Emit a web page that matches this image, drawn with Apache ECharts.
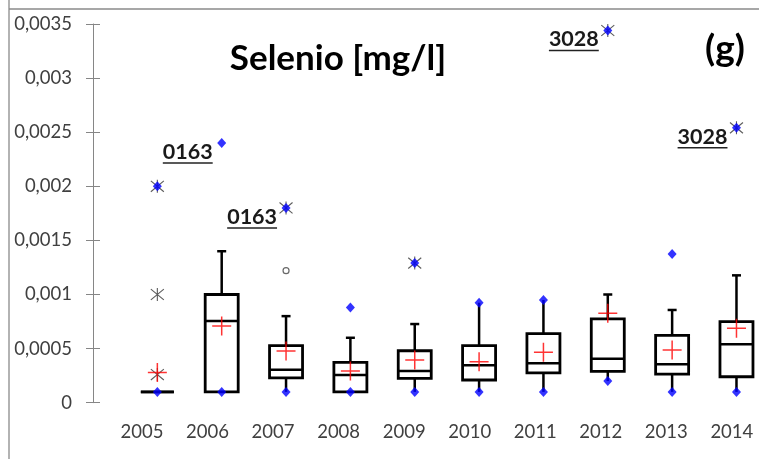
<!DOCTYPE html>
<html>
<head>
<meta charset="utf-8">
<script src="https://cdn.jsdelivr.net/npm/echarts@6/dist/echarts.min.js"></script>
<style>
  html, body { margin: 0; padding: 0; background: #fff; }
  #chart { width: 759px; height: 459px; }
</style>
</head>
<body>
<div id="chart"></div>
<script>
// Annual selenium concentrations [mg/l]: box statistics per year
const years = ['2005', '2006', '2007', '2008', '2009', '2010', '2011', '2012', '2013', '2014'];
const whiskerLow  = [0.0001, 0.0001, 0.0001, 0.0001, 0.0001, 0.0001, 0.0001, 0.0002, 0.0001, 0.0001];
const q1          = [0.0001, 0.0001, 0.00023, 0.0001, 0.000225, 0.00021, 0.000275, 0.00029, 0.000265, 0.00024];
const median      = [0.0001, 0.000755, 0.000305, 0.000256, 0.000293, 0.000345, 0.000364, 0.000407, 0.000355, 0.00054];
const q3          = [0.0001, 0.001, 0.000527, 0.000373, 0.00048, 0.000527, 0.000638, 0.000774, 0.000623, 0.00075];
const whiskerHigh = [0.0001, 0.0014, 0.0008, 0.0006, 0.000727, 0.000924, 0.000949, 0.001, 0.000857, 0.001177];
const means       = [0.00028, 0.00071, 0.000478, 0.000293, 0.000395, 0.000379, 0.000466, 0.000826, 0.000487, 0.000688];
const minValues   = [0.0001, 0.0001, 0.0001, 0.0001, 0.0001, 0.0001, 0.0001, 0.0002, 0.0001, 0.0001];
const maxValues   = [0.002, 0.0024, 0.0018, 0.00088, 0.00129, 0.000924, 0.000949, 0.00344, 0.001374, 0.00254];
// 1 = the maximum is also an extreme value (asterisk)
const maxExtreme  = [1, 0, 1, 0, 1, 0, 0, 1, 0, 1];
// station code of the maximum, where annotated
const maxStation  = ['', '0163', '0163', '', '', '', '', '3028', '', '3028'];
// other extreme values [yearIndex, value] and mild outliers
const extremeValues = [[0, 0.001], [0, 0.00026]];
const mildOutliers  = [[2, 0.00122]];
const yTickLabels = ['0', '0,0005', '0,001', '0,0015', '0,002', '0,0025', '0,003', '0,0035'];

const FONT = 'Lato, "Open Sans", sans-serif';
const BOX_W = 33;
const CAP_W = 9;
const LINE_W = 2.5;

const boxData = years.map((y, i) => [
  i, whiskerLow[i], q1[i], median[i], q3[i], whiskerHigh[i],
  whiskerLow[i] > minValues[i] ? 1 : 0,
  whiskerHigh[i] < maxValues[i] ? 1 : 0
]);

function renderBox(params, api) {
  const x = api.value(0);
  const pLow = api.coord([x, api.value(1)]);
  const pQ1 = api.coord([x, api.value(2)]);
  const pMed = api.coord([x, api.value(3)]);
  const pQ3 = api.coord([x, api.value(4)]);
  const pHigh = api.coord([x, api.value(5)]);
  const cx = pQ1[0];
  const half = BOX_W / 2;
  const st = { stroke: '#000', lineWidth: LINE_W, fill: null };
  const kids = [];
  if (pLow[1] > pQ1[1] + 0.5) {
    kids.push({ type: 'line', shape: { x1: cx, y1: pQ1[1], x2: cx, y2: pLow[1] }, style: st });
    if (api.value(6)) kids.push({ type: 'line', shape: { x1: cx - CAP_W / 2, y1: pLow[1], x2: cx + CAP_W / 2, y2: pLow[1] }, style: st });
  }
  if (pHigh[1] < pQ3[1] - 0.5) {
    kids.push({ type: 'line', shape: { x1: cx, y1: pQ3[1], x2: cx, y2: pHigh[1] }, style: st });
    if (api.value(7)) kids.push({ type: 'line', shape: { x1: cx - CAP_W / 2, y1: pHigh[1], x2: cx + CAP_W / 2, y2: pHigh[1] }, style: st });
  }
  kids.push({
    type: 'rect',
    shape: { x: cx - half, y: pQ3[1], width: BOX_W, height: pQ1[1] - pQ3[1] },
    style: { stroke: '#000', lineWidth: LINE_W + 0.3, fill: '#fff' }
  });
  kids.push({ type: 'line', shape: { x1: cx - half, y1: pMed[1], x2: cx + half, y2: pMed[1] }, style: st });
  return { type: 'group', children: kids };
}

// station code tags, bold and underlined, left of the maximum
const measureCtx = document.createElement('canvas').getContext('2d');
const TAG_FONT = 'bold 21.5px ' + FONT;
measureCtx.font = TAG_FONT;
const tagData = [];
maxStation.forEach((s, i) => { if (s) tagData.push([i, maxValues[i]]); });

function renderTag(params, api) {
  const i = api.value(0);
  const p = api.coord([i, api.value(1)]);
  const text = maxStation[i];
  const w = measureCtx.measureText(text).width;
  const right = p[0] - 9;
  const cy = p[1] + 9;
  return {
    type: 'group',
    children: [
      { type: 'text', x: right, y: cy,
        style: { text: text, font: TAG_FONT, fill: '#1a1a1a', align: 'right', verticalAlign: 'middle' } },
      { type: 'line', shape: { x1: right - w, y1: cy + 11, x2: right, y2: cy + 11 },
        style: { stroke: '#222', lineWidth: 1.5 } }
    ]
  };
}

const ASTERISK = 'path://M6 0 L6 12 M1 1 L11 11 M1 11 L11 1';
const PLUS = 'path://M0 10 L20 10 M10 0 L10 20';

const chart = echarts.init(document.getElementById('chart'), null, { renderer: 'canvas' });
chart.setOption({
  animation: false,
  backgroundColor: '#fff',
  graphic: [
    { type: 'line', shape: { x1: 9, y1: 0, x2: 9, y2: 459 }, style: { stroke: '#8a8a8a', lineWidth: 1.3 } },
    { type: 'line', shape: { x1: 9, y1: 9, x2: 759, y2: 9 }, style: { stroke: '#8a8a8a', lineWidth: 1.3 } },
    { type: 'text', x: 338, y: 59, style: { text: 'Selenio [mg/l]', font: 'bold 35px ' + FONT, fill: '#000', align: 'center', verticalAlign: 'middle' } },
    { type: 'text', x: 725, y: 49, style: { text: '(g)', font: 'bold 37px ' + FONT, fill: '#000', align: 'center', verticalAlign: 'middle' } }
  ],
  grid: { left: 93, right: 0, top: 24, bottom: 56.3 },
  xAxis: [
    { type: 'value', min: -1, max: 9.35, show: false },
    {
      type: 'value', position: 'bottom', min: -0.7476, max: 9.4144,
      axisLine: { show: false }, axisTick: { show: false }, splitLine: { show: false },
      axisLabel: {
        customValues: years.map((y, i) => i),
        formatter: v => years[Math.round(v)],
        margin: 20, fontFamily: FONT, fontSize: 18.5, color: '#404040'
      }
    }
  ],
  yAxis: [
    {
      type: 'value', min: 0, max: 0.0035, interval: 0.0005,
      axisLine: { show: true, onZero: false, lineStyle: { color: '#868686', width: 1 } },
      axisTick: { show: true, length: 7, lineStyle: { color: '#868686' } },
      splitLine: { show: false },
      axisLabel: {
        formatter: (v, idx) => yTickLabels[idx],
        margin: 21, fontFamily: FONT, fontSize: 18.5, color: '#404040'
      }
    },
    {
      type: 'value', position: 'left', min: 0, max: 0.0035, interval: 0.0005,
      axisLine: { show: false, onZero: false },
      axisTick: { show: true, inside: true, length: 7, lineStyle: { color: '#868686' } },
      axisLabel: { show: false }, splitLine: { show: false }
    }
  ],
  series: [
    {
      type: 'custom', xAxisIndex: 0, yAxisIndex: 0,
      renderItem: renderBox, data: boxData,
      encode: { x: 0, y: [1, 2, 3, 4, 5] }, z: 2
    },
    {
      type: 'scatter', xAxisIndex: 0, yAxisIndex: 0, z: 3,
      symbol: ASTERISK, symbolSize: 13,
      itemStyle: { color: 'rgba(0,0,0,0)', borderColor: '#333', borderWidth: 1.1 },
      data: extremeValues.concat(maxValues.map((v, i) => [i, v]).filter((d, i) => maxExtreme[i]))
    },
    {
      type: 'scatter', xAxisIndex: 0, yAxisIndex: 0, z: 3,
      symbol: 'circle', symbolSize: 6,
      itemStyle: { color: '#fff', borderColor: '#444', borderWidth: 1.2 },
      data: mildOutliers
    },
    {
      type: 'scatter', xAxisIndex: 0, yAxisIndex: 0, z: 4,
      symbol: 'diamond', symbolSize: [9, 10],
      itemStyle: { color: '#0000ff' },
      data: minValues.map((v, i) => [i, v]).concat(maxValues.map((v, i) => [i, v]))
    },
    {
      type: 'scatter', xAxisIndex: 0, yAxisIndex: 0, z: 5,
      symbol: PLUS, symbolSize: 19,
      itemStyle: { color: 'rgba(0,0,0,0)', borderColor: '#ff0000', borderWidth: 1.5 },
      data: means.map((v, i) => [i, v])
    },
    {
      type: 'custom', xAxisIndex: 0, yAxisIndex: 0,
      renderItem: renderTag, data: tagData,
      encode: { x: 0, y: 1 }, z: 6
    }
  ]
});
</script>
</body>
</html>
